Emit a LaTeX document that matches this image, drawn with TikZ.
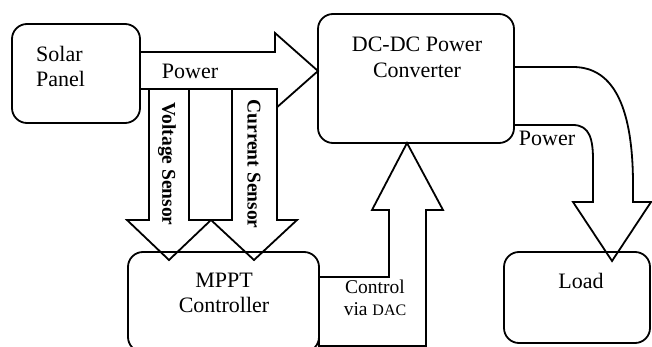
\documentclass[tikz,border=0pt]{standalone}
\usepackage{fontspec}
\setmainfont{Liberation Serif}
\begin{document}
\begin{tikzpicture}[x=1pt,y=-1pt,
  rbox/.style={draw,line width=1.8pt,rounded corners=15pt,inner sep=0pt,outer sep=0pt,anchor=north west},
  barrow/.style={draw,line width=1.8pt,fill=white,line join=miter},
  lbl/.style={font=\fontsize{22}{25}\selectfont,inner sep=0pt,align=center},
  senslbl/.style={font=\bfseries\fontsize{19.5}{22}\selectfont,inner sep=0pt,rotate=-90},
]
\clip (0,0) rectangle (652,347);
\fill[white] (0,0) rectangle (652,347);
% boxes (positions only, drawn later on top of arrows)
\path (12,24) node[rbox,draw=none,minimum width=128pt,minimum height=99pt] (solar) {};
\path (318,14) node[rbox,draw=none,minimum width=196pt,minimum height=129pt] (conv) {};
\path (128,252) node[rbox,draw=none,minimum width=191pt,minimum height=100pt] (mppt) {};
\path (504,252) node[rbox,draw=none,minimum width=146pt,minimum height=91pt] (load) {};
% block arrows
\draw[barrow] (solar.east |- 0,52) -- (275,52) -- (275,33) -- (conv.west |- 0,71)
  -- (275,109) -- (275,89) -- (solar.east |- 0,89) -- cycle;
\draw[barrow] (149,89) -- (189,89) -- (189,220) -- (211,220) -- (169,260)
  -- (127,220) -- (149,220) -- cycle;
\draw[barrow] (232,89) -- (277,89) -- (277,220) -- (297,220) -- (254,260)
  -- (211,220) -- (232,220) -- cycle;
\draw[barrow] (mppt.east |- 0,277) -- (389,277) -- (389,210) -- (372,210)
  -- (407,143) -- (443,210) -- (426,210) -- (426,346) -- (mppt.east |- 0,346) -- cycle;
\draw[barrow] (conv.east |- 0,67) -- (573,67) .. controls (615,67) and (633,110) .. (633,185)
  -- (633,202) -- (651,202) -- (612,261) -- (573,202) -- (593,202) -- (593,160)
  .. controls (593,140) and (590,125) .. (573,125) -- (conv.east |- 0,125) -- cycle;
% box outlines on top
\draw[line width=1.8pt,rounded corners=15pt] (solar.north west) rectangle (solar.south east);
\draw[line width=1.8pt,rounded corners=15pt] (conv.north west) rectangle (conv.south east);
\draw[line width=1.8pt,rounded corners=15pt] (mppt.north west) rectangle (mppt.south east);
\draw[line width=1.8pt,rounded corners=15pt] (load.north west) rectangle (load.south east);
% texts
\node[lbl,align=left,anchor=west] (solartxt) at (36,66) {Solar\\Panel};
\node[lbl] (pw1) at (190,71) {Power};
\node[lbl,font=\fontsize{22}{26}\selectfont] (convtxt) at (417,57) {DC-DC Power\\Converter};
\node[lbl] (pw2) at (547,138) {Power};
\node[lbl] (mppttxt) at (224,293) {MPPT\\Controller};
\node[lbl,font=\fontsize{19.5}{22}\selectfont] (ctrl) at (375,298) {Control\\via {\fontsize{16}{18}\selectfont DAC}};
\node[lbl] (loadtxt) at (581,281) {Load};
\node[senslbl] (vs) at (167,164) {Voltage Sensor};
\node[senslbl] (cs) at (254,164) {Current Sensor};
\end{tikzpicture}
\end{document}
